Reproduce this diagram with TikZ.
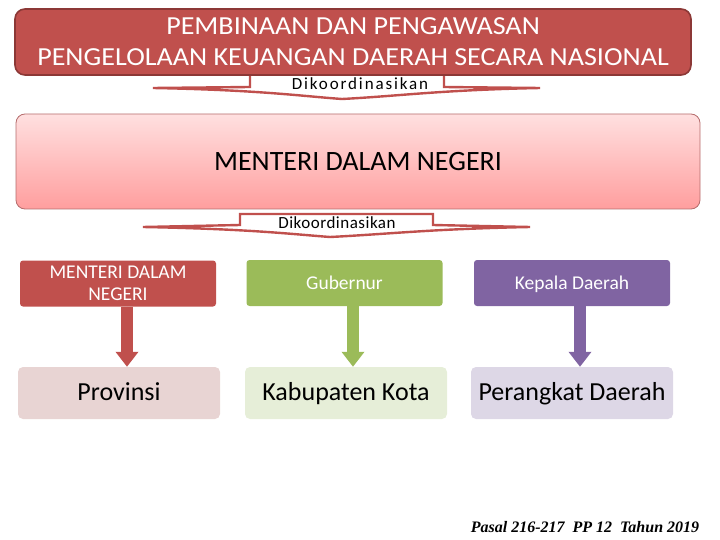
\documentclass[tikz,border=0pt]{standalone}
\usepackage{fontspec}
\setmainfont{Carlito}
\newfontfamily\tnr{Liberation Serif}
\newfontfamily\wideA[LetterSpace=11]{Carlito}
\newfontfamily\wideB[LetterSpace=3]{Carlito}
\usetikzlibrary{arrows.meta}
\definecolor{cred}{HTML}{C0504D}
\definecolor{credd}{HTML}{8C3836}
\definecolor{cgreen}{HTML}{9BBB59}
\definecolor{cpurple}{HTML}{8064A2}
\definecolor{lred}{HTML}{E8D4D3}
\definecolor{lgreen}{HTML}{E6EED8}
\definecolor{lpurple}{HTML}{DDD7E6}
\definecolor{pinktop}{HTML}{FFE0E0}
\definecolor{pinkbot}{HTML}{FF9E9E}
\definecolor{pinkedge}{HTML}{B56D6D}
\tikzset{
  topbox/.style={draw=credd, line width=1.6pt, fill=cred, rounded corners=10pt, minimum width=676pt, minimum height=66pt, inner sep=0pt, text=white, align=center, font=\fontsize{26}{31}\selectfont},
  midbox/.style={draw=pinkedge, line width=0.8pt, top color=pinktop, bottom color=pinkbot, rounded corners=9pt, minimum width=684pt, minimum height=95pt, inner sep=0pt, font=\fontsize{28}{32}\selectfont},
  headbox/.style={rounded corners=3pt, minimum width=196pt, minimum height=46pt, inner sep=0pt, text=white, align=center, font=\fontsize{19.5}{22}\selectfont},
  oneline/.style={text height=14pt, text depth=1.5pt},
  lowbox/.style={rounded corners=5pt, minimum width=202pt, minimum height=52pt, inner sep=0pt, text height=18pt, text depth=3.2pt, font=\fontsize{26}{28}\selectfont},
  callout/.style={draw=cred, line width=2.4pt, fill=white, line join=miter},
  lbl/.style={inner sep=0pt, font=\fontsize{17}{18}\selectfont},
  fatarrow/.style={line width=12pt, -{Triangle[width=22pt,length=15pt]}, shorten >=0pt}
}
\begin{document}
\begin{tikzpicture}[x=1pt,y=-1pt]
\useasboundingbox (0,0) rectangle (720,540);
\draw[callout] (250,70) -- (250,87) -- (153,88) .. controls (260,90) and (300,96) .. (342,99) .. controls (400,96) and (440,90) .. (540,88) -- (444,87) -- (444,70);
\node[topbox] (top) at (353,42) {\scalebox{1.08}[1]{PEMBINAAN DAN PENGAWASAN}\\\scalebox{1.08}[1]{PENGELOLAAN KEUANGAN DAERAH SECARA NASIONAL}};
\node[lbl, font=\wideA\fontsize{17}{18}\selectfont] (k1) at (360,84) {Dikoordinasikan};

\node[midbox] (mid) at (358,161.5) {MENTERI DALAM NEGERI};

\draw[callout] (240,214) -- (240,225) -- (143,227) .. controls (250,229) and (290,234) .. (330,237) .. controls (390,234) and (430,229) .. (530,227) -- (433,225) -- (433,214) -- cycle;
\node[lbl, font=\wideB\fontsize{17}{18}\selectfont] (k2) at (337,223) {Dikoordinasikan};

\node[headbox, fill=cred] (r1) at (118,283.5) {MENTERI DALAM\\NEGERI};
\node[headbox, oneline, fill=cgreen] (g1) at (344.5,283) {Gubernur};
\node[headbox, oneline, fill=cpurple] (p1) at (572,283) {Kepala Daerah};

\node[lowbox, fill=lred] (r2) at (119,393) {Provinsi};
\node[lowbox, fill=lgreen] (g2) at (346,393) {Kabupaten Kota};
\node[lowbox, fill=lpurple] (p2) at (572,393) {Perangkat Daerah};

\draw[fatarrow, draw=cred, fill=cred] ([xshift=9pt]r1.south) -- ([xshift=8pt]r2.north);
\draw[fatarrow, draw=cgreen, fill=cgreen] ([xshift=8.5pt]g1.south) -- ([xshift=7pt]g2.north);
\draw[fatarrow, draw=cpurple, fill=cpurple] ([xshift=8pt]p1.south) -- ([xshift=8pt]p2.north);

\node[inner sep=0pt, font=\tnr\bfseries\itshape\fontsize{16}{18}\selectfont] (src) at (585,527) {Pasal 216-217~~PP 12~~Tahun 2019};
\end{tikzpicture}
\end{document}
